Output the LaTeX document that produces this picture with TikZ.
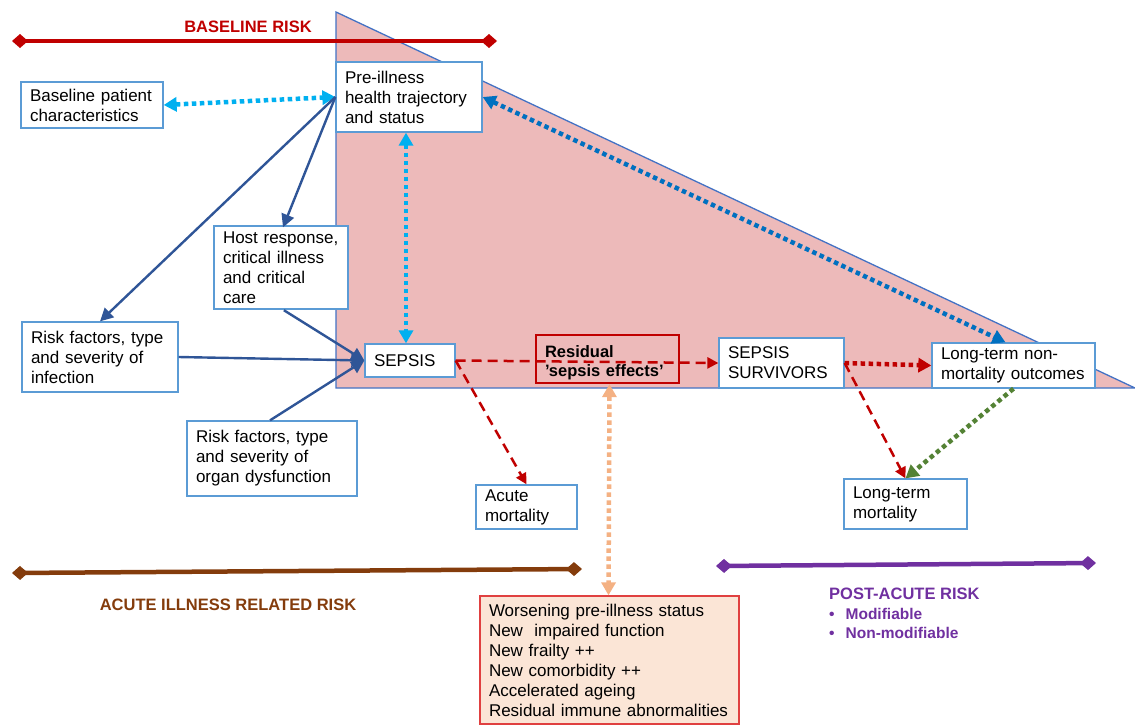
\documentclass[tikz,border=0pt]{standalone}
\usepackage{fontspec}
\setmainfont{Liberation Sans}
\usetikzlibrary{arrows.meta}
\definecolor{pinkfill}{RGB}{237,186,186}
\definecolor{triblue}{RGB}{68,114,196}
\definecolor{boxblue}{RGB}{91,155,213}
\definecolor{darkblue}{RGB}{47,85,151}
\definecolor{lightblue}{RGB}{0,176,240}
\definecolor{midblue}{RGB}{0,112,192}
\definecolor{darkred}{RGB}{192,0,0}
\definecolor{dgreen}{RGB}{84,130,53}
\definecolor{lorange}{RGB}{244,177,131}
\definecolor{peach}{RGB}{251,229,214}
\definecolor{boxred}{RGB}{224,64,64}
\definecolor{brown}{RGB}{132,60,12}
\definecolor{purple}{RGB}{112,48,160}
\begin{document}
\begin{tikzpicture}[x=1pt,y=-1pt,
  box/.style={draw=boxblue, fill=white, line width=1.3pt, align=left, inner xsep=9pt, inner ysep=1pt,
    font=\fontsize{17}{20}\selectfont},
  solidarr/.style={draw=darkblue, line width=2.4pt, -{Triangle[length=13pt,width=13pt]}},
  dotarr/.style={line width=4.5pt, dash pattern=on 4.5pt off 3.5pt, {Triangle[length=13pt,width=14pt]}-{Triangle[length=13pt,width=14pt]}},
  dotone/.style={line width=4.5pt, dash pattern=on 4.5pt off 3.5pt, -{Triangle[length=13pt,width=14pt]}},
  dasharr/.style={draw=darkred, line width=2.5pt, dash pattern=on 10pt off 6pt, -{Triangle[length=11pt,width=11pt]}},
  riskbar/.style={line width=4.5pt, {Diamond[length=16pt,width=14pt]}-{Diamond[length=16pt,width=14pt]}},
  risklabel/.style={font=\fontsize{16.5}{19}\selectfont\bfseries}
]
\useasboundingbox (0,0) rectangle (1135,724);

% triangle
\filldraw[fill=pinkfill, draw=triblue, line width=1.3pt] (336,12) -- (1135,388) -- (336,388) -- cycle;

% risk bars
\coordinate (b1) at (12,41);
\coordinate (b2) at (497,41);
\draw[riskbar, darkred] (b1) -- (b2);
\node[risklabel, text=darkred] (blabel) at (248,27) {BASELINE RISK};

\coordinate (a1) at (12,573);
\coordinate (a2) at (582,569);
\draw[riskbar, brown] (a1) -- (a2);
\node[risklabel, text=brown] (alabel) at (228,605) {ACUTE ILLNESS RELATED RISK};

\coordinate (p1) at (716,566);
\coordinate (p2) at (1096,563);
\draw[riskbar, purple] (p1) -- (p2);
\node[anchor=north west, inner sep=0pt, text=purple, align=left, font=\fontsize{16.5}{19.5}\selectfont\bfseries] (plabel) at (829,588)
  {POST-ACUTE RISK\\
   \fontsize{15.5}{19.5}\selectfont\textbullet\hspace{11pt}Modifiable\\
   \fontsize{15.5}{19.5}\selectfont\textbullet\hspace{11pt}Non-modifiable};

% boxes
\node[box, minimum width=146pt, minimum height=70pt, text width=128pt] (pre) at (409,97)
  {Pre-illness\\health trajectory\\and status};
\node[box, minimum width=142pt, minimum height=46pt, text width=124pt] (base) at (92,105)
  {Baseline patient\\characteristics};
\node[box, minimum width=134pt, minimum height=83pt, text width=116pt] (host) at (281,267.5)
  {Host response,\\critical illness\\and critical\\care};
\node[box, minimum width=156pt, minimum height=70pt, text width=138pt] (rinf) at (100,357)
  {Risk factors, type\\and severity of\\infection};
\node[box, minimum width=90pt, minimum height=33pt, text width=72pt] (sepsis) at (410,360.5)
  {SEPSIS};
\node[box, minimum width=125pt, minimum height=50pt, text width=107pt] (surv) at (781.5,363)
  {SEPSIS\\SURVIVORS};
\node[box, minimum width=163pt, minimum height=45pt, text width=145pt] (ltnm) at (1013.5,365.5)
  {Long-term non-\\mortality outcomes};
\node[box, minimum width=170pt, minimum height=75pt, text width=152pt] (rorg) at (272,458.5)
  {Risk factors, type\\and severity of\\organ dysfunction};
\node[box, minimum width=101pt, minimum height=44pt, text width=83pt] (acute) at (526.5,507)
  {Acute\\mortality};
\node[box, minimum width=123pt, minimum height=50pt, text width=105pt] (ltm) at (905.5,504)
  {Long-term\\mortality};
\node[box, draw=boxred, fill=peach, minimum width=259pt, minimum height=128pt, text width=241pt] (effects) at (609.5,660)
  {Worsening pre-illness status\\New\ \ impaired function\\New frailty ++\\New comorbidity ++\\Accelerated ageing\\Residual immune abnormalities};

% connectors
\draw[dotarr, lightblue] (base.east) -- (pre.west);
\draw[dotarr, lightblue] ([xshift=-3pt]pre.south) -- ([xshift=-4pt]sepsis.north);
\draw[dotarr, midblue] (pre.east) -- ([xshift=-8pt]ltnm.north);
\draw[solidarr] (pre.west) -- ([xshift=2pt,yshift=-2pt]host.north);
\draw[solidarr] (pre.west) -- (rinf.north);
\draw[solidarr, shorten <=1pt] ([xshift=2pt]host.south) -- (sepsis.west);
\draw[solidarr] (rinf.east) -- (sepsis.west);
\draw[solidarr] ([xshift=-2pt]rorg.north) -- (sepsis.west);

\draw[dasharr] (sepsis.east) -- (surv.west);
\draw[dasharr] (sepsis.east) -- (acute.north);
\draw[dotone, darkred] (surv.east) -- (ltnm.west);
\draw[dasharr] (surv.east) -- (ltm.north);
\draw[dotone, dgreen] (ltnm.south) -- (ltm.north);

% residual box (no fill)
\node[draw=darkred, line width=2.2pt, minimum width=143pt, minimum height=48pt, text width=125pt, inner xsep=9pt,
  align=left, font=\fontsize{16.5}{19}\selectfont\bfseries] (resid) at (607.5,359)
  {\rule{0pt}{19pt}Residual\\’sepsis effects’};
\draw[dotarr, lorange] ([xshift=2pt]resid.south) -- ([xshift=-1pt]effects.north);
\end{tikzpicture}
\end{document}
